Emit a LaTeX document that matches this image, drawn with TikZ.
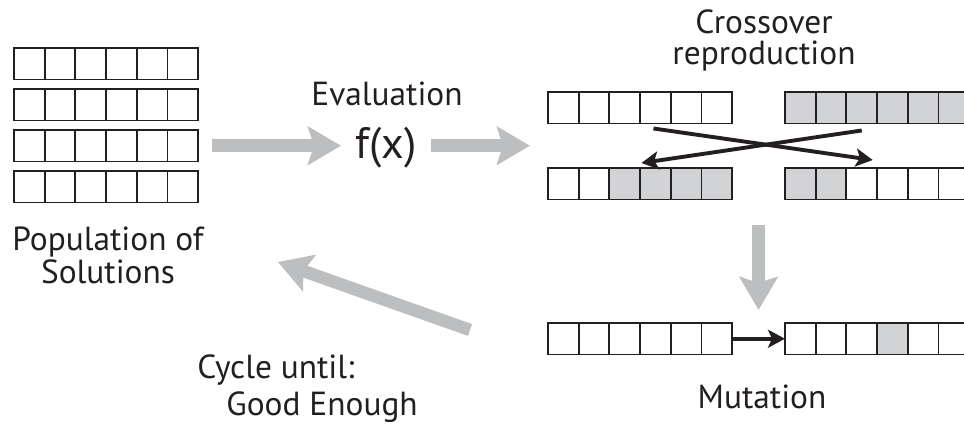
\documentclass[tikz,border=0pt]{standalone}
\usepackage{fontspec}
\setmainfont{PT Sans}
\usetikzlibrary{arrows.meta,calc}

\definecolor{ink}{HTML}{231F20}
\definecolor{shade}{HTML}{D1D3D4}
\definecolor{flowgray}{HTML}{BCBEC0}
\colorlet{cell0}{white}
\colorlet{cell1}{shade}

% a string of six genes: name, left x, top y, fill of each gene (0/1)
\newcommand{\genome}[4]{%
  \foreach \g [count=\k] in {#4}
    \node[gene, fill=cell\g] (#1-\k) at ({#2+(\k-1)*30.7},#3) {};
}

\begin{document}
\begin{tikzpicture}[x=0.02cm, y=-0.02cm,
    gene/.style={draw=ink, line width=1.1pt, minimum width=0.614cm,
      minimum height=0.63cm, inner sep=0pt, outer sep=0pt, anchor=north west},
    txt/.style={font=\fontsize{19}{18.7}\selectfont, text=ink, inner sep=0pt},
    bigarrow/.style={draw=flowgray, line width=0.25cm,
      -{Stealth[length=0.66cm, width=0.76cm, inset=0.12cm]}},
    pointer/.style={draw=ink, line width=2.2pt,
      -{Stealth[length=0.34cm, width=0.36cm, inset=0.08cm]}}]
  \useasboundingbox (0,0) rectangle (964,431);

  % population
  \genome{p1}{14}{48}{0,0,0,0,0,0}
  \genome{p2}{14}{89}{0,0,0,0,0,0}
  \genome{p3}{14}{130}{0,0,0,0,0,0}
  \genome{p4}{14}{171}{0,0,0,0,0,0}
  \node[txt, align=center] (pop) at (108,255) {Population of\\Solutions};

  % evaluation
  \node[txt, anchor=base] (eval) at (387,106) {Evaluation};
  \node[txt, font=\fontsize{25}{26}\selectfont, anchor=base] (fx) at (386,159) {f(x)};

  % crossover
  \genome{tl}{548}{92}{0,0,0,0,0,0}
  \genome{tr}{785}{92}{1,1,1,1,1,1}
  \genome{bl}{548}{168}{0,0,1,1,1,1}
  \genome{br}{785}{168}{1,1,0,0,0,0}
  \node[txt, font=\fontsize{19}{18}\selectfont, align=center, anchor=north]
    (cross) at (764,9) {Crossover\\reproduction};

  % mutation
  \genome{ml}{548}{323}{0,0,0,0,0,0}
  \genome{mr}{785}{323}{0,0,0,1,0,0}
  \node[txt, anchor=base] (mut) at (762,409) {Mutation};

  \node[txt, font=\fontsize{19}{21.5}\selectfont, align=left, anchor=north west]
    (cycle) at (197,354) {Cycle until:\\\hspace*{0.87em}Good Enough};

  % flow of the loop
  \draw[bigarrow, shorten <=0.28cm, shorten >=0.28cm]
    (p3-6.east) -- (p3-6.east -| fx.west);
  \draw[bigarrow, shorten <=0.28cm, shorten >=0.36cm]
    (p3-6.east -| fx.east) -- (p3-6.east -| tl-1.west);
  \draw[bigarrow]
    ($(bl-6.south east)!0.5!(br-1.south west)+(0,26)$) --
    ($(ml-6.north east)!0.5!(mr-1.north west)+(0,-13)$);
  \coordinate (back) at (470,330);
  \draw[bigarrow] (back) -- ($(pop.east)+(74,7)$);

  % swap of tails, single gene change
  \draw[pointer] ($(tl-4.south)+(-2,5)$) -- ($(br-3.north)+(11,-8)$);
  \draw[pointer] ($(tr-3.south)+(0,7)$) -- ($(bl-4.north)+(-14,-5)$);
  \draw[pointer] (ml-6.east) -- (mr-1.west);
\end{tikzpicture}
\end{document}
